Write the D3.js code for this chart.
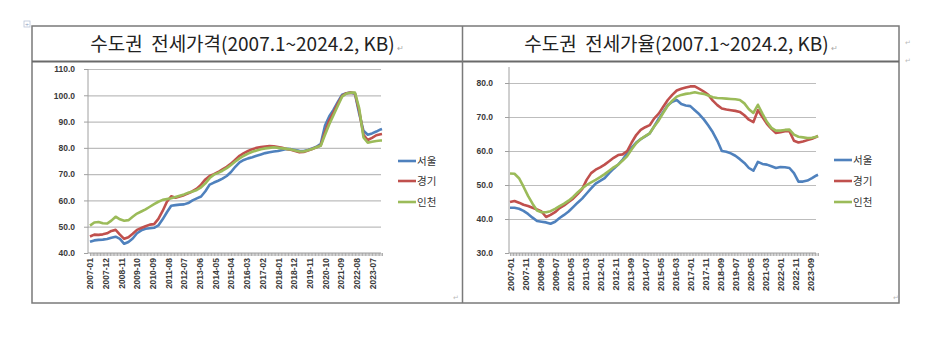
<!DOCTYPE html>
<html><head><meta charset="utf-8">
<script src="https://cdn.jsdelivr.net/npm/d3@7"></script>
<style>
body{margin:0;background:#fff;}
svg{display:block;}
.tick text{font-family:"Liberation Sans",Arial,sans-serif;}
.ttl{white-space:pre;}
</style></head>
<body><svg id="c" width="934" height="348"></svg>
<script>
// ---------- data ----------
const seriesNames = ["서울","경기","인천"];
const seriesColors = ["#4F81BD","#C0504D","#9BBB59"];
const leftTitle = "수도권  전세가격(2007.1~2024.2, KB)";
const rightTitle = "수도권  전세가율(2007.1~2024.2, KB)";
const leftTickLabels = ["2007-01","2007-12","2008-11","2009-10","2010-09","2011-08","2012-07","2013-06","2014-05","2015-04","2016-03","2017-02","2018-01","2018-12","2019-11","2020-10","2021-09","2022-08","2023-07"];
const rightTickLabels = ["2007-01","2007-11","2008-09","2009-07","2010-05","2011-03","2012-01","2012-11","2013-09","2014-07","2015-05","2016-03","2017-01","2017-11","2018-09","2019-07","2020-05","2021-03","2022-01","2022-11","2023-09"];
const leftYTicks = [40,50,60,70,80,90,100,110];
const rightYTicks = [30,40,50,60,70,80];
const sampleMonths = [
"2007-01","2007-04","2007-07","2007-10","2008-01","2008-04","2008-07","2008-10",
"2009-01","2009-04","2009-07","2009-10","2010-01","2010-04","2010-07","2010-10",
"2011-01","2011-04","2011-07","2011-10","2012-01","2012-04","2012-07","2012-10",
"2013-01","2013-04","2013-07","2013-10","2014-01","2014-04","2014-07","2014-10",
"2015-01","2015-04","2015-07","2015-10","2016-01","2016-04","2016-07","2016-10",
"2017-01","2017-04","2017-07","2017-10","2018-01","2018-04","2018-07","2018-10",
"2019-01","2019-04","2019-07","2019-10","2020-01","2020-04","2020-07","2020-10",
"2021-01","2021-04","2021-07","2021-10","2022-01","2022-04","2022-07","2022-10",
"2023-01","2023-04","2023-07","2023-10","2024-01","2024-02"];
// 전세가격 (index)
const priceSeoul = [44.3,44.8,45.0,45.1, 45.3,45.8,46.2,45.4, 43.5,44.2,45.5,47.5, 48.6,49.2,49.4,49.6,
 50.5,52.8,55.5,58.0, 58.2,58.4,58.5,59.0, 60.0,60.8,61.5,63.5, 66.0,66.8,67.5,68.3,
 69.3,70.8,72.8,74.5, 75.4,76.0,76.4,77.0, 77.5,78.0,78.3,78.6, 78.8,79.2,79.6,79.5,
 79.2,78.9,78.8,79.2, 79.8,80.4,81.5,88.5, 92.0,94.5,97.5,100.2, 100.8,101.0,100.6,93.0,
 86.5,85.0,85.5,86.2, 87.0,87.2];
const priceGyeonggi = [46.3,47.0,46.9,47.1, 47.5,48.4,48.8,47.0, 45.4,46.0,47.3,48.8, 49.5,50.2,50.8,51.0,
 53.0,56.0,59.5,61.6, 61.0,61.5,62.0,62.7, 63.5,64.5,66.0,68.0, 69.3,70.0,70.8,71.8,
 72.8,74.0,75.5,77.0, 78.0,78.8,79.5,80.0, 80.3,80.5,80.7,80.6, 80.3,80.0,79.6,79.3,
 78.8,78.3,78.4,79.0, 79.6,80.2,81.0,86.0, 90.5,93.5,96.8,99.8, 100.8,101.0,100.8,94.0,
 85.0,83.0,83.8,84.8, 85.2,85.3];
const priceIncheon = [50.4,51.6,51.8,51.3, 51.2,52.3,53.8,52.8, 52.3,52.5,53.8,55.0, 55.8,56.6,57.6,58.6,
 59.5,60.2,60.5,60.8, 61.3,61.8,62.3,62.9, 63.4,64.0,65.0,66.5, 68.5,69.8,70.5,71.3,
 72.3,73.5,74.8,76.0, 77.0,77.8,78.5,79.0, 79.5,79.8,80.0,80.2, 80.0,79.8,79.6,79.4,
 79.0,78.6,78.6,79.1, 79.6,80.2,80.8,85.0, 89.0,92.5,96.0,99.5, 100.7,101.0,101.0,95.0,
 84.0,82.0,82.3,82.6, 82.8,82.8];
// 전세가율 (%)
const ratioSeoul = [43.3,43.3,43.0,42.4, 41.5,40.4,39.4,39.2, 39.0,38.6,39.2,40.3, 41.2,42.2,43.5,44.8,
 46.0,47.5,49.0,50.4, 51.2,52.0,53.5,54.8, 56.0,57.5,59.3,61.0, 62.5,63.5,64.3,65.2,
 67.3,69.5,71.5,73.5, 74.5,75.0,73.8,73.4, 73.2,72.0,70.8,69.3, 67.5,65.5,63.0,60.0,
 59.8,59.3,58.6,57.6, 56.5,55.0,54.2,56.8, 56.2,56.0,55.5,55.0, 55.3,55.2,55.0,53.5,
 51.0,51.0,51.3,52.0, 52.8,53.0];
const ratioGyeonggi = [45.0,45.3,44.8,44.2, 43.8,43.3,42.8,42.2, 40.6,41.2,42.0,43.2, 44.0,45.0,46.0,47.3,
 48.8,51.5,53.5,54.5, 55.2,56.0,57.0,58.0, 58.8,59.0,60.0,62.5, 64.7,66.2,67.0,67.6,
 69.6,71.0,73.0,75.0, 76.5,77.8,78.3,78.7, 79.0,79.0,78.3,77.5, 76.5,74.8,73.5,72.5,
 72.2,72.0,71.8,71.5, 70.5,69.2,68.5,72.0, 70.0,68.0,66.5,65.3, 65.5,65.8,65.8,63.0,
 62.5,62.8,63.2,63.6, 64.2,64.4];
const ratioIncheon = [53.4,53.3,52.0,49.5, 46.8,44.5,42.5,42.0, 42.0,42.3,43.0,43.8, 44.5,45.4,46.5,47.8,
 49.0,50.0,50.8,51.5, 52.3,53.2,54.2,55.2, 56.0,57.2,58.5,60.5, 62.3,63.5,64.4,65.2,
 67.2,69.0,71.2,73.3, 74.8,76.0,76.5,76.8, 77.0,77.3,77.0,76.8, 76.3,75.8,75.6,75.5,
 75.4,75.3,75.2,75.0, 74.0,72.3,71.2,73.6, 71.0,68.6,66.8,66.0, 66.0,66.2,66.3,64.8,
 64.2,64.0,63.8,63.9, 64.2,64.4];

// ---------- drawing ----------
const months = [];
for (let y = 2007; y <= 2024; y++) for (let m = 1; m <= 12; m++) {
  if (y === 2024 && m > 2) break;
  months.push(y + "-" + String(m).padStart(2, "0"));
}
const svg = d3.select("#c");

// frame (table)
const frame = svg.append("g").attr("stroke", "#7a7a7a").attr("fill", "none");
frame.append("rect").attr("x", 32).attr("y", 26).attr("width", 867).attr("height", 277).attr("stroke-width", 1.5);
frame.append("line").attr("x1", 32).attr("x2", 899).attr("y1", 61.5).attr("y2", 61.5).attr("stroke-width", 2.2).attr("stroke", "#6a6a6a");
frame.append("line").attr("x1", 462.5).attr("x2", 462.5).attr("y1", 26).attr("y2", 303).attr("stroke-width", 1.5);
// table handle
svg.append("rect").attr("x", 24).attr("y", 21).attr("width", 6).attr("height", 6).attr("fill", "#fff").attr("stroke", "#b8c4d8").attr("stroke-width", 0.8);
svg.append("text").attr("x", 27).attr("y", 26.5).attr("text-anchor", "middle").attr("font-size", 7).attr("fill", "#8899bb").text("+");

function titleText(cx, txt) {
  const t = svg.append("text").attr("class", "ttl").attr("xml:space", "preserve")
    .attr("x", cx).attr("y", 51).attr("text-anchor", "middle")
    .attr("font-family", "'Noto Sans CJK KR','Noto Sans',sans-serif").attr("font-size", 19)
    .attr("fill", "#222").text(txt);
  t.append("tspan").attr("font-size", 8).attr("fill", "#aaa").attr("dx", 2).text("↵");
}
titleText(247, leftTitle);
titleText(681, rightTitle);
// margin paragraph marks
[[905, 45], [905, 63], [453, 300], [893, 300]].forEach(([x, y]) =>
  svg.append("text").attr("x", x).attr("y", y).attr("font-size", 7).attr("fill", "#bbb").text("↵"));

function chart(opt) {
  const g = svg.append("g");
  const x = d3.scalePoint().domain(months).range([opt.x0, opt.x1]);
  const y = d3.scaleLinear().domain(opt.yDomain).range([opt.yBottom, opt.yTop]);
  const x0 = opt.axisX;
  // grid
  g.append("g").attr("transform", `translate(${x0},0)`)
    .call(d3.axisLeft(y).tickValues(opt.yTicks.slice(1)).tickSize(-(opt.gridEnd - x0)).tickFormat(""))
    .call(s => s.select(".domain").remove())
    .call(s => s.selectAll("line").attr("stroke", "#bdbdbd").attr("stroke-width", 1.2));
  // y axis
  g.append("g").attr("transform", `translate(${x0},0)`)
    .call(d3.axisLeft(y).tickValues(opt.yTicks).tickSize(4).tickPadding(opt.yPad).tickFormat(d3.format(".1f")))
    .call(s => s.select(".domain").attr("d", `M0,${opt.axisTop}V${opt.yBottom}`).attr("stroke", "#a0a0a0"))
    .call(s => s.selectAll(".tick line").attr("stroke", "#a0a0a0"))
    .call(s => s.selectAll("text").attr("font-size", 8.5).attr("fill", "#3a3a3a").attr("font-weight", "bold"));
  // x axis
  const lab = new Set(opt.xLabels);
  const xa = g.append("g").attr("transform", `translate(0,${opt.yBottom})`)
    .call(d3.axisBottom(x).tickValues(months).tickSize(3).tickSizeOuter(0).tickFormat(d => lab.has(d) ? d : ""));
  xa.select(".domain").attr("d", `M${x0},0H${opt.gridEnd}`).attr("stroke", "#a0a0a0").attr("stroke-width", 1.2);
  xa.selectAll(".tick line").attr("stroke", "#9a9a9a").attr("stroke-width", 0.8);
  xa.selectAll("text").attr("transform", "rotate(-90)").attr("x", -5).attr("y", 0).attr("dy", "0.35em")
    .attr("text-anchor", "end").attr("font-size", opt.xFont).attr("fill", "#3a3a3a").attr("font-weight", "bold");
  // lines
  const line = d3.line().x((d, i) => x(sampleMonths[i])).y(d => y(d)).curve(d3.curveLinear);
  opt.series.forEach((s, k) => {
    g.append("path").datum(s).attr("fill", "none").attr("stroke", seriesColors[k])
      .attr("stroke-width", 2.6).attr("stroke-linejoin", "round").attr("d", line);
  });
  // legend
  seriesNames.forEach((n, k) => {
    const ly = opt.legendY[k];
    g.append("line").attr("x1", opt.legendX).attr("x2", opt.legendX + 18).attr("y1", ly).attr("y2", ly)
      .attr("stroke", seriesColors[k]).attr("stroke-width", 2.6);
    g.append("text").attr("x", opt.legendX + 19).attr("y", ly).attr("dy", "0.35em")
      .attr("font-family", "'Noto Sans CJK KR',sans-serif").attr("font-size", 10.5).attr("fill", "#333").text(n);
  });
}

chart({x0: 90, x1: 382, axisX: 88, gridEnd: 381, yDomain: [40, 110], yBottom: 253, yTop: 69, axisTop: 69,
  yTicks: leftYTicks, yPad: 9, xLabels: leftTickLabels, xFont: 8.5,
  series: [priceSeoul, priceGyeonggi, priceIncheon], legendX: 398, legendY: [161, 181, 202]});
chart({x0: 510, x1: 818, axisX: 509, gridEnd: 816, yDomain: [30, 80], yBottom: 253, yTop: 83, axisTop: 67,
  yTicks: rightYTicks, yPad: 12, xLabels: rightTickLabels, xFont: 9,
  series: [ratioSeoul, ratioGyeonggi, ratioIncheon], legendX: 834, legendY: [160, 181, 202]});
</script></body></html>
